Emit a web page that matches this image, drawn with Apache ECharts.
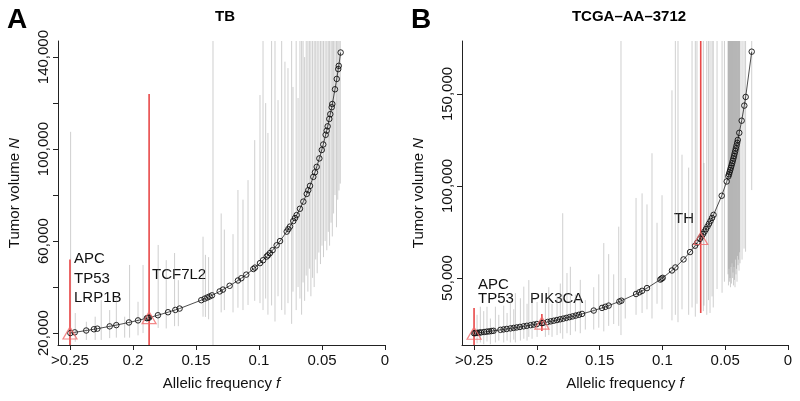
<!DOCTYPE html>
<html><head><meta charset="utf-8">
<script src="https://cdn.jsdelivr.net/npm/echarts@6/dist/echarts.min.js"></script>
<style>html,body{margin:0;padding:0;background:#fff}#c{width:800px;height:401px}</style>
</head><body><div id="c"></div>
<script>
// ---------- DATA ----------
const xTicks = [0, 0.05, 0.1, 0.15, 0.2, 0.25];
const yTicksA = [20000, 40000, 60000, 80000, 100000, 120000, 140000];
const yLabelsA = [20000, 60000, 100000, 140000];
const yTicksB = [50000, 100000, 150000];

// Panel A (TB): allelic frequency f and tumor volume N
const fA = [0.2497,0.2462,0.2371,0.2310,0.2283,0.2185,0.2132,0.2032,0.1960,0.1890,0.1881,0.1872,0.1802,0.1722,0.1664,0.1630,0.1458,0.1431,0.1410,0.1392,0.1373,0.1312,0.1286,0.1233,0.1167,0.1140,0.1101,0.1045,0.1032,0.0992,0.0968,0.0939,0.0929,0.0913,0.0892,0.0860,0.0833,0.0780,0.0767,0.0754,0.0728,0.0714,0.0701,0.0675,0.0648,0.0621,0.0609,0.0595,0.0569,0.0556,0.0542,0.0521,0.0502,0.0490,0.0471,0.0463,0.0455,0.0442,0.0434,0.0423,0.0418,0.0397,0.0383,0.0371,0.0367,0.0352];
const nA = [20000,20300,21100,21650,21900,22900,23450,24600,25500,26450,26600,26700,27750,29050,30050,30650,34300,34950,35450,35900,36400,38100,38900,40550,42850,43850,45400,47850,48450,50400,51650,53250,53800,54750,56050,58150,60000,64100,65200,66300,68700,70000,71300,74050,77150,80500,82100,84000,87900,89900,92250,95950,99600,102000,106200,108000,109900,113100,115200,118200,119600,126000,130500,134800,136200,142000];
// grey intervals [f, low, high]
const greyA = [
[0.2495,14800,107500],[0.2458,16200,28700],[0.2370,17000,24900],[0.2300,17000,27100],[0.2252,17000,34300],
[0.2185,17800,30000],[0.2132,18000,36000],[0.2066,18000,27100],[0.2027,18000,49600],[0.1960,19000,33600],
[0.1920,20000,49600],[0.1800,22200,58300],[0.1736,22000,51700],[0.1670,23000,54800],[0.1640,23000,43000],
[0.1444,27100,61900],[0.1425,27000,54000],[0.1400,26000,53000],[0.1365,14800,147000],[0.1300,29000,72000],
[0.1275,30000,65000],[0.1206,29000,63000],[0.1167,31000,82200],[0.1127,30000,78000],[0.1087,32200,86500],
[0.1034,34000,103900],[0.0992,33000,123500],[0.0968,30000,147000],[0.0947,35000,120000],[0.0929,28000,107000],
[0.0900,32000,147000],[0.0873,25000,147000],[0.0849,36000,121300],[0.0820,30000,147000],[0.0794,28000,138000],
[0.0770,33000,135200],[0.0741,24000,147000],[0.0730,38000,127000],[0.0705,30000,147000],[0.0690,40000,122200],
[0.0675,35000,147000],[0.0662,28000,147000],[0.0650,42000,147000],[0.0638,34000,140000],[0.0625,45000,147000],
[0.0612,38000,147000],[0.0600,48000,147000],[0.0588,36000,147000],[0.0575,44000,147000],[0.0562,40000,147000],
[0.0550,52000,147000],[0.0538,46000,147000],[0.0525,55000,147000],[0.0512,50000,147000],[0.0500,58000,147000],
[0.0488,53000,147000],[0.0475,60000,147000],[0.0462,56000,147000],[0.0450,64000,147000],[0.0440,58000,147000],
[0.0428,68000,147000],[0.0418,62000,147000],[0.0408,72000,147000],[0.0397,80000,147000],[0.0385,66000,147000],
[0.0375,78000,147000],[0.0365,82000,147000],[0.0355,85000,147000]
];
const redLinesA = [[0.25,14800,52000],[0.1872,14800,124000]];
const redPtsA = [[0.25,20000],[0.1872,26700]];

// Panel B (TCGA-AA-3712)
const fB = [0.2500,0.2490,0.2475,0.2460,0.2445,0.2420,0.2400,0.2380,0.2360,0.2345,
0.2290,0.2265,0.2240,0.2210,0.2185,0.2160,0.2135,0.2105,0.2080,0.2050,0.2025,0.2000,
0.1960,0.1950,
0.1915,0.1890,0.1865,0.1840,0.1815,0.1790,0.1765,0.1740,0.1715,0.1690,0.1665,0.1640,
0.1547,0.1481,0.1455,0.1428,0.1343,0.1327,0.1210,0.1184,0.1162,0.1123,0.1017,0.1007,0.0998,0.0924,0.0897,0.0832,0.0780,0.0740,0.0722,
0.0701,0.0689,0.0677,0.0665,0.0653,0.0641,0.0629,0.0617,0.0605,0.0593,
0.0528,0.0488,
0.0475,0.0470,0.0465,0.0460,0.0455,0.0450,0.0445,0.0440,0.0435,0.0430,0.0425,0.0420,0.0415,0.0410,0.0405,0.0400,
0.0388,0.0369,0.0348,0.0337,0.0289];
const nB = [20000,20080,20200,20330,20450,20660,20830,21010,21190,21320,
21830,22080,22320,22620,22880,23150,23420,23750,24040,24390,24690,25000,
25510,25640,
26110,26460,26810,27170,27550,27930,28330,28740,29150,29590,30030,30490,
32320,33760,34360,35010,37230,37680,41320,42230,43030,44520,49160,49650,50100,54110,55740,60100,64100,67570,69250,
71330,72570,73860,75190,76570,78000,79490,81040,82640,84320,
94700,102460,
105260,106380,107530,108700,109890,111110,112360,113640,114940,116280,117650,119050,120480,121950,123460,125000,
128900,135500,143700,148400,173000];
const greyB = [
[0.2476,14500,30000],[0.2450,15000,34400],[0.2423,14000,32000],[0.2397,15500,34400],[0.2370,14000,28000],
[0.2330,15000,34400],[0.2303,16000,30000],[0.2264,15000,35000],[0.2237,16000,31000],[0.2211,15000,37100],
[0.2184,16500,33000],[0.2171,15000,41800],[0.2131,16000,39000],[0.2104,17000,45300],[0.2078,16000,36000],
[0.2064,18000,48900],[0.2038,17000,42000],[0.1998,18000,37000],[0.1932,18000,38000],[0.1905,19000,45000],
[0.1879,18000,36000],[0.1839,19000,40000],[0.1813,20000,47000],[0.1794,17000,85200],[0.1760,20000,52700],
[0.1733,19000,56100],[0.1693,21000,41000],[0.1654,20000,49000],[0.1614,22000,38000],[0.1547,22000,45000],
[0.1507,23000,52000],[0.1467,21000,69000],[0.1428,24000,63000],[0.1388,25000,52000],[0.1348,24000,77900],
[0.1330,19000,178800],[0.1296,28000,50000],[0.1210,30000,93500],[0.1162,31000,96000],[0.1123,33000,90000],
[0.1083,28000,117800],[0.1043,36000,80000],[0.1003,33000,95000],[0.0924,27000,152000],[0.0897,30000,178800],
[0.0876,26000,178800],[0.0844,33000,117000],[0.0791,30000,110000],[0.0764,34000,178800],[0.0738,29000,178800],
[0.0725,36000,178800],[0.0674,32000,178800],[0.0669,35000,112500],[0.0647,30000,178800],[0.0633,38000,178800],
[0.0621,31000,178800],[0.0605,40000,178800],[0.0595,34000,178800],[0.0565,44000,178800],[0.0525,42000,178800],
[0.0506,48000,178800],
[0.0478,52000,178800],[0.0474,46000,178800],[0.0470,55000,178800],[0.0466,48000,178800],[0.0462,50000,178800],
[0.0458,45000,178800],[0.0454,56000,178800],[0.0450,47000,178800],[0.0446,58000,178800],[0.0442,50000,178800],
[0.0438,53000,178800],[0.0434,46000,178800],[0.0430,56000,178800],[0.0426,49000,178800],[0.0422,45000,178800],
[0.0418,60000,178800],[0.0414,52000,178800],[0.0410,55000,178800],[0.0406,48000,178800],[0.0402,62000,178800],
[0.0398,57000,178800],[0.0394,60000,178800],[0.0390,54000,178800],[0.0386,64000,178800],[0.0382,58000,178800],
[0.0366,60000,178800],[0.0350,66000,178800],[0.0338,64300,178800],[0.0289,97800,178800]
];
const redLinesB = [[0.25,13600,33700],[0.196,21200,30400],[0.0695,31000,178800]];
const redPtsB = [[0.25,20000],[0.196,25500],[0.0695,71500]];

// ---------- CHART ----------
const FONT = 'Liberation Sans, Arial, Helvetica, sans-serif';
const chart = echarts.init(document.getElementById('c'), null, {renderer: 'canvas'});

function vseg(color, width) {
  return function (params, api) {
    const x = api.value(0);
    const p1 = api.coord([x, api.value(1)]);
    const p2 = api.coord([x, api.value(2)]);
    return {type: 'line', shape: {x1: p1[0], y1: p1[1], x2: p2[0], y2: p2[1]},
            style: {stroke: color, lineWidth: width}};
  };
}
function xAxis(idx, max) {
  return {
    type: 'value', gridIndex: idx, inverse: true, min: 0, max: max,
    name: 'Allelic frequency {i|f}', nameLocation: 'middle', nameGap: 31,
    nameTextStyle: {fontFamily: FONT, fontSize: 15, color: '#111',
      rich: {i: {fontFamily: FONT, fontSize: 15, fontStyle: 'italic', color: '#111'}}},
    splitLine: {show: false},
    axisLine: {show: true, onZero: false, lineStyle: {color: '#222', width: 1}},
    axisTick: {show: true, length: 5, customValues: xTicks, lineStyle: {color: '#222'}},
    axisLabel: {customValues: xTicks, margin: 8, fontFamily: FONT, fontSize: 15, color: '#111',
      formatter: v => (Math.abs(v - 0.25) < 1e-9 ? '>0.25' : String(v))}
  };
}
function yAxis(idx, min, max, ticks, labels) {
  return {
    type: 'value', gridIndex: idx, min: min, max: max,
    name: 'Tumor volume {i|N}', nameLocation: 'middle', nameGap: 36,
    nameTextStyle: {fontFamily: FONT, fontSize: 15, color: '#111',
      rich: {i: {fontFamily: FONT, fontSize: 15, fontStyle: 'italic', color: '#111'}}},
    splitLine: {show: false},
    axisLine: {show: true, onZero: false, lineStyle: {color: '#222', width: 1}},
    axisTick: {show: true, length: 5, customValues: ticks, lineStyle: {color: '#222'}},
    axisLabel: {customValues: labels, rotate: 90, margin: 7, fontFamily: FONT, fontSize: 15, color: '#111',
      formatter: v => Number(v).toLocaleString('en-US')}
  };
}
function panelSeries(idx, f, n, grey, redLines, redPts) {
  return [
    {type: 'custom', xAxisIndex: idx, yAxisIndex: idx, data: grey, clip: true, silent: true, z: 1,
     encode: {x: 0, y: [1, 2]}, renderItem: vseg('rgba(140,140,140,0.42)', 1)},
    {type: 'custom', xAxisIndex: idx, yAxisIndex: idx, data: redLines, clip: true, silent: true, z: 2,
     encode: {x: 0, y: [1, 2]}, renderItem: vseg('#e84848', 1.6)},
    {type: 'line', xAxisIndex: idx, yAxisIndex: idx, data: f.map((v, i) => [v, n[i]]), z: 3,
     symbol: 'circle', symbolSize: 5.5, showAllSymbol: true, silent: true,
     lineStyle: {color: '#222', width: 0.8},
     itemStyle: {color: 'rgba(255,255,255,0)', borderColor: '#111', borderWidth: 0.9}},
    {type: 'scatter', xAxisIndex: idx, yAxisIndex: idx, data: redPts, z: 4, silent: true,
     symbol: 'triangle', symbolSize: [14, 12],
     itemStyle: {color: 'rgba(255,255,255,0)', borderColor: '#f06a6a', borderWidth: 1.2}}
  ];
}
function txt(x, y, s, extra) {
  return Object.assign({type: 'text', x: x, y: y, silent: true,
    style: Object.assign({text: s, fontFamily: FONT, fontSize: 15, fill: '#111',
      textAlign: 'left', textVerticalAlign: 'middle'}, extra || {})}, {});
}

chart.setOption({
  animation: false,
  backgroundColor: '#fff',
  grid: [
    {left: 58, right: 415, top: 41, bottom: 56},
    {left: 462, right: 12, top: 41, bottom: 56}
  ],
  xAxis: [xAxis(0, 0.2595), xAxis(1, 0.2596)],
  yAxis: [yAxis(0, 14800, 147000, yTicksA, yLabelsA), yAxis(1, 13600, 178800, yTicksB, yTicksB)],
  series: [].concat(
    panelSeries(0, fA, nA, greyA, redLinesA, redPtsA),
    panelSeries(1, fB, nB, greyB, redLinesB, redPtsB)
  ),
  graphic: [
    txt(7, 20, 'A', {fontSize: 28, fontWeight: 'bold', fill: '#000'}),
    txt(411, 20, 'B', {fontSize: 28, fontWeight: 'bold', fill: '#000'}),
    txt(225, 17, 'TB', {fontWeight: 'bold', textAlign: 'center', fill: '#000'}),
    txt(629, 17, 'TCGA\u2013AA\u20133712', {fontWeight: 'bold', textAlign: 'center', fill: '#000'}),
    txt(74, 259, 'APC'), txt(74, 278.5, 'TP53'), txt(74, 297.5, 'LRP1B'),
    txt(152, 275, 'TCF7L2'),
    txt(478, 284.5, 'APC'), txt(478, 299, 'TP53'),
    txt(530, 299, 'PIK3CA'),
    txt(674, 218.5, 'TH')
  ]
});
</script></body></html>
